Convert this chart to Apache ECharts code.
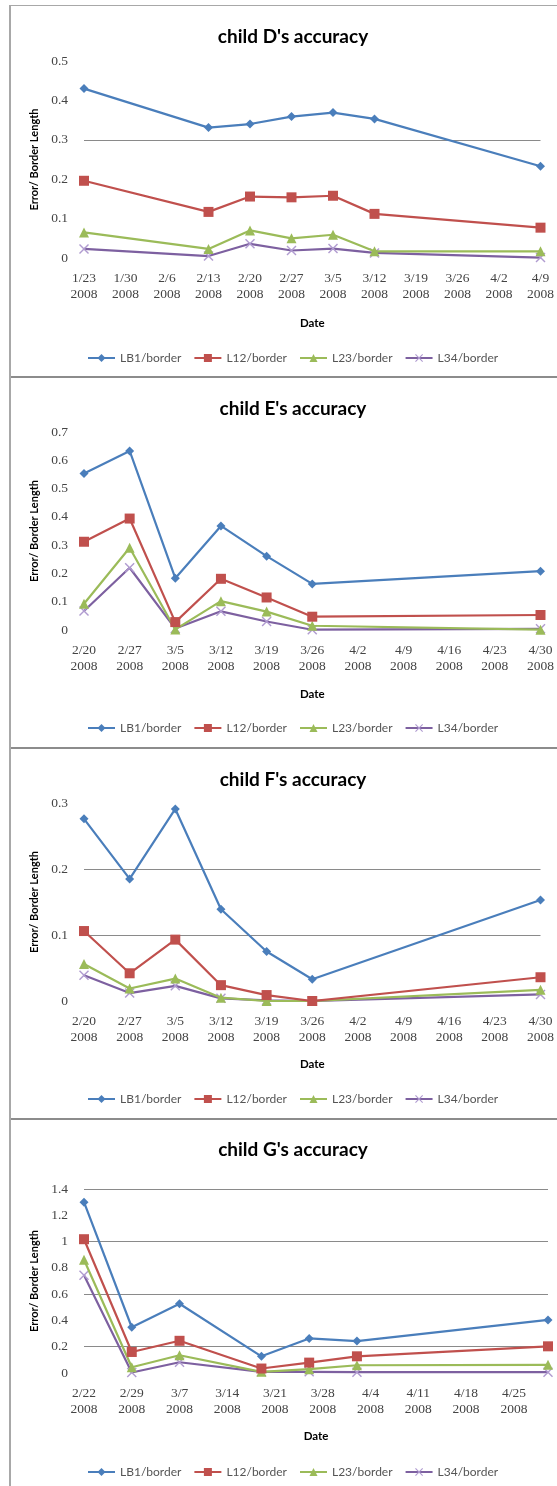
<!DOCTYPE html>
<html>
<head>
<meta charset="utf-8">
<script src="https://cdn.jsdelivr.net/npm/echarts@6/dist/echarts.min.js"></script>
<style>
  html, body { margin: 0; padding: 0; background: #fff; overflow: hidden; }
  body { width: 557px; height: 1486px; position: relative; }
  .chart { position: absolute; left: 0; width: 557px; }
  .vline { position: absolute; left: 9px; top: 5px; width: 2px; height: 1481px; background: #a8a8a8; }
  .hline { position: absolute; left: 9px; width: 548px; background: #8c8c8c; }
</style>
</head>
<body>
<div class="hline" style="top:5px;height:1px;background:#a8a8a8"></div>
<div class="hline" style="top:376px;height:2px"></div>
<div class="hline" style="top:747px;height:2px"></div>
<div class="hline" style="top:1118px;height:2px"></div>
<div class="vline"></div>
<div id="cD" class="chart" style="top:6px;height:370px"></div>
<div id="cE" class="chart" style="top:377px;height:370px"></div>
<div id="cF" class="chart" style="top:748px;height:370px"></div>
<div id="cG" class="chart" style="top:1119px;height:367px"></div>
<script>
// ---- data ----
const seriesNames = ['LB1/border', 'L12/border', 'L23/border', 'L34/border'];

const titleD = "child D's accuracy";
const datesD = ['2008-01-23','2008-02-13','2008-02-20','2008-02-27','2008-03-05','2008-03-12','2008-04-09'];
const axisRangeD = ['2008-01-23','2008-04-09'];
const lb1D = [0.430, 0.331, 0.340, 0.359, 0.369, 0.353, 0.233];
const l12D = [0.196, 0.117, 0.156, 0.154, 0.158, 0.112, 0.077];
const l23D = [0.065, 0.023, 0.070, 0.050, 0.059, 0.017, 0.017];
const l34D = [0.023, 0.005, 0.036, 0.019, 0.024, 0.013, 0.001];
const yTicksD = [0, 0.5, 0.1];

const titleE = "child E's accuracy";
const datesE = ['2008-02-20','2008-02-27','2008-03-05','2008-03-12','2008-03-19','2008-03-26','2008-04-30'];
const axisRangeE = ['2008-02-20','2008-04-30'];
const lb1E = [0.553, 0.633, 0.183, 0.368, 0.261, 0.163, 0.208];
const l12E = [0.312, 0.394, 0.028, 0.181, 0.115, 0.047, 0.053];
const l23E = [0.093, 0.291, 0.002, 0.102, 0.065, 0.015, 0.001];
const l34E = [0.067, 0.220, 0.005, 0.066, 0.030, 0.001, 0.004];
const yTicksE = [0, 0.7, 0.1];

const titleF = "child F's accuracy";
const datesF = ['2008-02-20','2008-02-27','2008-03-05','2008-03-12','2008-03-19','2008-03-26','2008-04-30'];
const axisRangeF = ['2008-02-20','2008-04-30'];
const lb1F = [0.276, 0.185, 0.291, 0.139, 0.075, 0.033, 0.153];
const l12F = [0.106, 0.042, 0.093, 0.024, 0.009, 0.000, 0.036];
const l23F = [0.056, 0.019, 0.034, 0.005, 0.000, 0.000, 0.017];
const l34F = [0.039, 0.012, 0.023, 0.004, 0.001, 0.000, 0.010];
const yTicksF = [0, 0.3, 0.1];

const titleG = "child G's accuracy";
const datesG = ['2008-02-22','2008-02-29','2008-03-07','2008-03-19','2008-03-26','2008-04-02','2008-04-30'];
const axisRangeG = ['2008-02-22','2008-04-30'];
const lb1G = [1.300, 0.348, 0.527, 0.127, 0.263, 0.243, 0.404];
const l12G = [1.018, 0.160, 0.245, 0.034, 0.079, 0.127, 0.203];
const l23G = [0.862, 0.044, 0.135, 0.009, 0.029, 0.059, 0.062];
const l34G = [0.743, 0.004, 0.082, 0.009, 0.009, 0.006, 0.006];
const yTicksG = [0, 1.4, 0.2];

// ---- styling ----
const colors = ['#4A7EBB', '#C0504D', '#9BBB59', '#7D60A0'];
const xSymbol = 'path://M0,1 L1,0 L5,4 L9,0 L10,1 L6,5 L10,9 L9,10 L5,6 L1,10 L0,9 L4,5 Z';
const symbols = ['diamond', 'rect', 'triangle', xSymbol];
const symbolSizes = [9, 10, 10, 10];
const symbolColors = ['#4A7EBB', '#C0504D', '#9BBB59', '#B09BD0'];
const DAY = 86400000;

function buildOption(title, dates, range, values, yTicks, gridColors, layout) {
  const start = Date.parse(range[0]);
  const end = Date.parse(range[1]);
  const off = d => (Date.parse(d) - start) / DAY;
  const series = values.map((vals, i) => ({
    name: seriesNames[i],
    type: 'line',
    data: dates.map((d, j) => [off(d), vals[j]]),
    symbol: symbols[i],
    symbolSize: symbolSizes[i],
    showAllSymbol: true,
    lineStyle: { color: colors[i], width: 2.2 },
    itemStyle: { color: symbolColors[i] },
    z: 10 - i,
    animation: false
  }));
  return {
    animation: false,
    title: {
      text: title,
      left: 288, top: layout.titleTop,
      textAlign: 'center',
      textStyle: { fontFamily: 'Lato', fontWeight: 'bold', fontSize: 19, color: '#000' }
    },
    legend: {
      left: 87, top: layout.legendTop, padding: 0,
      itemWidth: 27, itemHeight: 10, itemGap: 12,
      data: seriesNames,
      textStyle: { fontFamily: 'Lato', fontSize: 12, color: '#555' }
    },
    grid: { left: 84, right: 557 - layout.right, top: layout.top, height: layout.height, containLabel: false },
    xAxis: {
      type: 'value',
      min: 0, max: (end - start) / DAY, interval: 7,
      name: 'Date', nameLocation: 'middle', nameGap: layout.nameGap,
      nameTextStyle: { fontFamily: 'Lato', fontWeight: 'bold', fontSize: 11.5, color: '#000' },
      axisLine: { show: false }, axisTick: { show: false }, splitLine: { show: false },
      axisLabel: {
        showMaxLabel: ((end - start) / DAY) % 7 === 0,
        margin: 12, lineHeight: 16,
        fontFamily: 'Liberation Serif', fontSize: 13.5, color: '#444',
        formatter: v => {
          if (v % 7 !== 0) return '';
          const dt = new Date(start + v * DAY);
          return (dt.getUTCMonth() + 1) + '/' + dt.getUTCDate() + '\n' + dt.getUTCFullYear();
        }
      }
    },
    yAxis: {
      type: 'value',
      min: yTicks[0], max: yTicks[1], interval: yTicks[2],
      name: 'Error/ Border Length', nameLocation: 'middle', nameGap: 43,
      nameTextStyle: { fontFamily: 'Lato', fontWeight: 'bold', fontSize: 11, color: '#000' },
      axisLine: { show: false }, axisTick: { show: false },
      axisLabel: { margin: 16, fontFamily: 'Liberation Serif', fontSize: 13.5, color: '#444' },
      splitLine: { show: true, lineStyle: { color: gridColors, width: 1 } }
    },
    series: series
  };
}

const T = 'rgba(0,0,0,0)', G = '#8a8a8a';
const panels = [
  ['cD', titleD, datesD, axisRangeD, [lb1D, l12D, l23D, l34D], yTicksD, [T, T, T, G, T, T],
    { titleTop: 16, legendTop: 346, top: 55, height: 197, right: 549, nameGap: 59 }],
  ['cE', titleE, datesE, axisRangeE, [lb1E, l12E, l23E, l34E], yTicksE, [T],
    { titleTop: 17, legendTop: 345, top: 55, height: 198, right: 548, nameGap: 58 }],
  ['cF', titleF, datesF, axisRangeF, [lb1F, l12F, l23F, l34F], yTicksF, [T, G, G, T],
    { titleTop: 17, legendTop: 345, top: 55, height: 198, right: 548, nameGap: 57 }],
  ['cG', titleG, datesG, axisRangeG, [lb1G, l12G, l23G, l34G], yTicksG, [T, G],
    { titleTop: 16, legendTop: 347, top: 70, height: 184, right: 548, nameGap: 57 }]
];
panels.forEach(p => {
  const chart = echarts.init(document.getElementById(p[0]), null, { renderer: 'canvas' });
  chart.setOption(buildOption(p[1], p[2], p[3], p[4], p[5], p[6], p[7]));
});
</script>
</body>
</html>
